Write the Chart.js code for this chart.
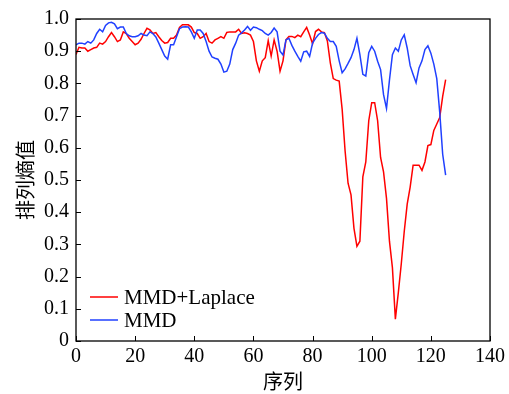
<!DOCTYPE html>
<html>
<head>
<meta charset="utf-8">
<script src="https://cdn.jsdelivr.net/npm/chart.js@4/dist/chart.umd.min.js"></script>
<style>
  html, body { margin: 0; padding: 0; background: #fff; }
  #wrap { position: relative; width: 509px; height: 394px; }
  #c { display: block; position: absolute; left: 0; top: 0; }
  .pre { position: absolute; left: 5px; color: rgba(0,0,0,0); white-space: nowrap; }
</style>
</head>
<body>
<div id="wrap">
  <span class="pre" style="top:5px; font:20px 'Liberation Serif'">0.123456789 MMD+Laplace</span>
  <span class="pre" style="top:40px; font:20px 'Noto Sans CJK SC'">序列排列熵值</span>
  <canvas id="c" width="509" height="394"></canvas>
</div>
<script>
// valores, um por ponto da sequência (0..125)
const serieLaplace = [
  0.890, 0.912, 0.910, 0.910, 0.900, 0.905, 0.910, 0.912, 0.925, 0.922,
  0.930, 0.945, 0.958, 0.945, 0.930, 0.935, 0.960, 0.955, 0.940, 0.930,
  0.920, 0.925, 0.937, 0.955, 0.971, 0.966, 0.955, 0.958, 0.945, 0.933,
  0.925, 0.927, 0.940, 0.940, 0.950, 0.974, 0.982, 0.982, 0.982, 0.975,
  0.958, 0.955, 0.940, 0.945, 0.955, 0.930, 0.925, 0.935, 0.940, 0.945,
  0.940, 0.958, 0.960, 0.960, 0.960, 0.968, 0.955, 0.957, 0.955, 0.950,
  0.930, 0.870, 0.838, 0.870, 0.880, 0.933, 0.885, 0.935, 0.900, 0.838,
  0.870, 0.935, 0.946, 0.946, 0.942, 0.950, 0.945, 0.960, 0.974, 0.950,
  0.923, 0.961, 0.968, 0.960, 0.958, 0.932, 0.864, 0.815, 0.810, 0.807,
  0.720, 0.590, 0.490, 0.454, 0.350, 0.294, 0.310, 0.510, 0.556, 0.684,
  0.740, 0.740, 0.684, 0.570, 0.525, 0.443, 0.310, 0.228, 0.068, 0.150,
  0.240, 0.340, 0.425, 0.478, 0.546, 0.546, 0.546, 0.530, 0.556, 0.607,
  0.610, 0.654, 0.674, 0.694, 0.760, 0.812
];
const serieMmd = [
  0.920, 0.925, 0.925, 0.922, 0.930, 0.925, 0.935, 0.955, 0.968, 0.960,
  0.980, 0.988, 0.990, 0.985, 0.970, 0.975, 0.975, 0.955, 0.948, 0.945,
  0.945, 0.948, 0.955, 0.950, 0.948, 0.960, 0.955, 0.944, 0.925, 0.905,
  0.885, 0.875, 0.920, 0.920, 0.945, 0.970, 0.975, 0.976, 0.975, 0.960,
  0.940, 0.966, 0.966, 0.955, 0.930, 0.900, 0.882, 0.878, 0.875, 0.860,
  0.835, 0.838, 0.860, 0.905, 0.925, 0.950, 0.957, 0.966, 0.977, 0.965,
  0.975, 0.973, 0.968, 0.964, 0.955, 0.950, 0.958, 0.972, 0.960, 0.900,
  0.888, 0.935, 0.940, 0.918, 0.900, 0.884, 0.869, 0.898, 0.900, 0.884,
  0.925, 0.940, 0.952, 0.958, 0.956, 0.940, 0.930, 0.930, 0.915, 0.870,
  0.833, 0.845, 0.862, 0.880, 0.905, 0.940, 0.889, 0.828, 0.823, 0.895,
  0.915, 0.900, 0.869, 0.843, 0.765, 0.722, 0.810, 0.889, 0.910, 0.900,
  0.935, 0.951, 0.910, 0.855, 0.828, 0.802, 0.848, 0.870, 0.905, 0.917,
  0.894, 0.860, 0.815, 0.710, 0.580, 0.515
];
const legendas = ["MMD+Laplace", "MMD"];
const cores = ["#ff0000", "#2040ff"];
const ticksX = [0, 20, 40, 60, 80, 100, 120, 140];
const ticksY = [0, 0.1, 0.2, 0.3, 0.4, 0.5, 0.6, 0.7, 0.8, 0.9, 1.0];

const fonteNum = "'Liberation Serif'";
const fonteCjk = "'Noto Sans CJK SC'";

function pontos(serie) {
  return serie.map((v, i) => ({ x: i, y: v }));
}

// moldura completa + marcas de tick para dentro + legenda no canto inferior
const molduraPlugin = {
  id: "moldura",
  afterDraw(chart) {
    const { ctx, chartArea: a, scales: { x, y } } = chart;
    ctx.save();
    ctx.strokeStyle = "#000";
    ctx.lineWidth = 1.3;
    ctx.strokeRect(a.left, a.top, a.right - a.left, a.bottom - a.top);
    ctx.beginPath();
    ticksX.forEach(v => {
      const px = Math.round(x.getPixelForValue(v)) + 0.5;
      ctx.moveTo(px, a.bottom);
      ctx.lineTo(px, a.bottom - 5);
    });
    ticksY.forEach(v => {
      const py = Math.round(y.getPixelForValue(v)) + 0.5;
      ctx.moveTo(a.left, py);
      ctx.lineTo(a.left + 5, py);
    });
    ctx.lineWidth = 1;
    ctx.stroke();

    ctx.font = "21px " + fonteNum;
    ctx.textBaseline = "middle";
    ctx.textAlign = "left";
    legendas.forEach((txt, i) => {
      const ly = 297 + i * 23;
      ctx.strokeStyle = cores[i];
      ctx.lineWidth = 1.5;
      ctx.beginPath();
      ctx.moveTo(90, ly);
      ctx.lineTo(118, ly);
      ctx.stroke();
      ctx.fillStyle = "#000";
      ctx.fillText(txt, 124, ly + 1);
    });
    ctx.restore();
  }
};

let grafico = null;
function desenhar() {
  if (grafico) { grafico.update(); return; }
  grafico = new Chart(document.getElementById("c").getContext("2d"), {
    type: "line",
    data: {
      datasets: [
        { label: legendas[0], data: pontos(serieLaplace), borderColor: cores[0], borderWidth: 1.5, pointRadius: 0, tension: 0, order: 2 },
        { label: legendas[1], data: pontos(serieMmd), borderColor: cores[1], borderWidth: 1.5, pointRadius: 0, tension: 0, order: 1 },
      ],
    },
    options: {
      responsive: false,
      animation: false,
      events: [],
      devicePixelRatio: 1,
      layout: { padding: { left: 0, top: 16, right: 17, bottom: 0 } },
      plugins: { legend: { display: false }, tooltip: { enabled: false } },
      scales: {
        x: {
          type: "linear",
          min: 0, max: 140,
          afterFit: s => { s.height = 53; },
          afterBuildTicks: s => { s.ticks = ticksX.map(v => ({ value: v })); },
          grid: { display: false, drawTicks: false },
          border: { display: false },
          ticks: { color: "#000", padding: 4, maxRotation: 0, font: { family: fonteNum, size: 20 } },
          title: { display: true, text: "序列", color: "#000", padding: { top: 0, bottom: 1 }, font: { family: fonteCjk, size: 20 } },
        },
        y: {
          min: 0, max: 1,
          afterFit: s => { s.width = 76; },
          afterBuildTicks: s => { s.ticks = ticksY.map(v => ({ value: v })); },
          grid: { display: false, drawTicks: false },
          border: { display: false },
          ticks: {
            color: "#000", padding: 7,
            font: { family: fonteNum, size: 20 },
            callback: v => v === 0 ? "0" : v.toFixed(1),
          },
          title: { display: true, text: "排列熵值", color: "#000", padding: { top: 13, bottom: 0 }, font: { family: fonteCjk, size: 20 } },
        },
      },
    },
    plugins: [molduraPlugin],
  });
}

desenhar();
// redesenha quando as fontes do sistema estiverem resolvidas
window.addEventListener("load", () => {
  document.fonts.ready.then(() => requestAnimationFrame(() => requestAnimationFrame(desenhar)));
});
</script>
</body>
</html>
